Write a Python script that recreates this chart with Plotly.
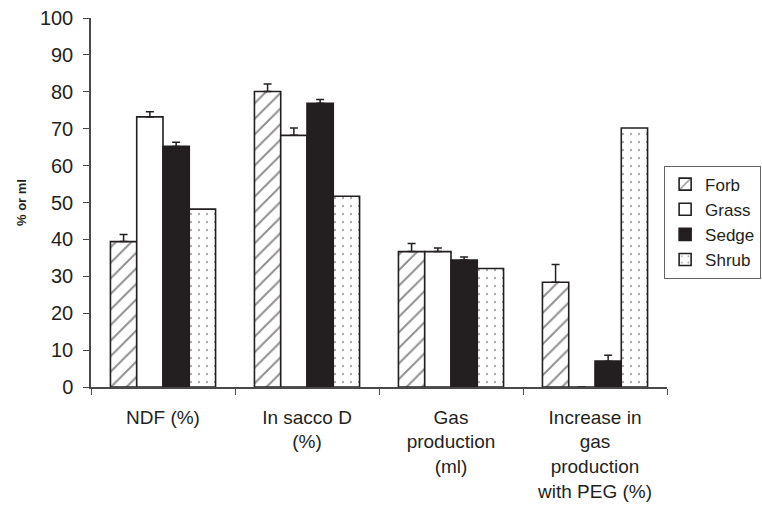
import plotly.graph_objects as go

categories = ["NDF (%)", "In sacco D<br>(%)", "Gas<br>production<br>(ml)",
              "Increase in<br>gas<br>production<br>with PEG (%)"]
series = ["Forb", "Grass", "Sedge", "Shrub"]
forb = [39.4, 80.1, 36.7, 28.4]
grass = [73.2, 68.2, 36.7, 0]
sedge = [65.2, 76.9, 34.4, 7.0]
shrub = [48.2, 51.7, 32.1, 70.2]
forb_err = [1.9, 2.0, 2.2, 4.8]
grass_err = [1.4, 2.0, 1.0, 0]
sedge_err = [1.1, 1.0, 0.8, 1.6]
shrub_err = [0, 0, 0, 0]
yticks = [0, 10, 20, 30, 40, 50, 60, 70, 80, 90, 100]

INK = "#231f20"
AXIS = "#4a4a4a"
FONT = "Liberation Sans, Arial, sans-serif"

styles = {
    "Forb": dict(color="white", pattern=dict(shape="/", fgcolor=INK, bgcolor="white",
                                             size=11, solidity=0.18, fillmode="overlay")),
    "Grass": dict(color="white"),
    "Sedge": dict(color=INK),
    "Shrub": dict(color="white", pattern=dict(shape=".", fgcolor=INK, bgcolor="white",
                                              size=8, solidity=0.05, fillmode="overlay")),
}
values = {"Forb": (forb, forb_err), "Grass": (grass, grass_err),
          "Sedge": (sedge, sedge_err), "Shrub": (shrub, shrub_err)}

fig = go.Figure()
for s in series:
    v, e = values[s]
    show_err = any(x > 0 for x in e)
    fig.add_trace(go.Bar(
        name=s, x=categories, y=v,
        marker=dict(line=dict(color=INK, width=1.6), **styles[s]),
        error_y=dict(type="data", symmetric=False, array=e,
                     arrayminus=[0] * len(e), color=INK, thickness=1.5, width=4,
                     visible=show_err),
    ))

fig.update_layout(
    width=762, height=508,
    margin=dict(l=91, r=95, t=18, b=121, autoexpand=False),
    barmode="group", bargap=0.27, bargroupgap=0,
    plot_bgcolor="white", paper_bgcolor="white",
    font=dict(family=FONT, size=19, color="#231f20"),
    legend=dict(x=0.995, y=0.6, xanchor="left", yanchor="top",
                bordercolor="#666666", borderwidth=1, bgcolor="white",
                font=dict(size=17), itemwidth=30, tracegroupgap=0,
                traceorder="normal"),
    showlegend=True,
)
fig.update_xaxes(
    showline=True, linecolor=AXIS, linewidth=1.5,
    ticks="outside", tickson="boundaries", ticklen=6, tickcolor=AXIS,
    tickwidth=1.2, showgrid=False, tickfont=dict(size=19),
    ticklabelstandoff=12,
)
fig.update_yaxes(
    range=[0, 100], tickvals=yticks, showline=True, linecolor=AXIS,
    linewidth=1.5, ticks="outside", ticklen=6, tickcolor=AXIS, tickwidth=1.2,
    showgrid=False, zeroline=False, tickfont=dict(size=20),
    ticklabelstandoff=6,
    title=dict(text="<b>% or ml</b>", font=dict(size=13), standoff=10),
)

fig.write_html("out.html")
